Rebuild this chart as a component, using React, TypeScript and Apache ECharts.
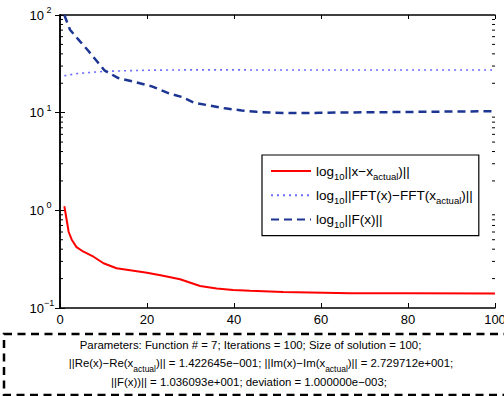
import React, { useEffect, useRef } from "react";
import * as echarts from "echarts";

// Iteration (x) and log-scale values
const redX = [1, 2, 2.7, 3.8, 5.4, 7.7, 10, 13, 16.9, 20, 23.7, 27.6, 32.2, 36, 39.8, 43.7, 51.3, 66.7, 80, 100];
const redY = [1.1, 0.6, 0.5, 0.42, 0.377, 0.335, 0.287, 0.255, 0.241, 0.23, 0.214, 0.197, 0.168, 0.158, 0.153, 0.15, 0.146, 0.142, 0.1415, 0.141];

const dotX = [1, 4, 10.3, 20, 28, 40, 60, 80, 100];
const dotY = [23.9, 25.2, 26.5, 27.2, 27.4, 27.4, 27.35, 27.3, 27.3];

const dashX = [1, 2.3, 4.6, 6.5, 8.4, 10.3, 13.4, 17.2, 21.1, 24.9, 28, 30.7, 34.5, 37.9, 41.8, 45.2, 49, 52.9, 56.3, 59.8, 63.6, 78, 93.5, 100];
const dashY = [100, 70.6, 53.7, 43, 34, 26.9, 22.6, 20.6, 18.6, 15.85, 14.5, 12.7, 11.8, 11.07, 10.55, 10.2, 9.98, 9.9, 9.9, 9.98, 10.03, 10.15, 10.3, 10.36];

const xTicks = { min: 0, max: 100, interval: 20 };
const yRange = { min: 0.1, max: 100 };
const minorTicks = [0.2, 0.3, 0.4, 0.5, 0.6, 0.7, 0.8, 0.9, 2, 3, 4, 5, 6, 7, 8, 9, 20, 30, 40, 50, 60, 70, 80, 90];

const seriesNames = [
  "log10||x-xactual)||",
  "log10||FFT(x)-FFT(xactual)||",
  "log10||F(x)||",
];
const legendRich = [
  "{b|log}{s|10}{b|||x−x}{s|actual}{b|)||}",
  "{b|log}{s|10}{b|||FFT(x)−FFT(x}{s|actual}{b|)||}",
  "{b|log}{s|10}{b|||F(x)||}",
];
const paramLines = [
  "{n|Parameters: Function # = 7; Iterations = 100; Size of solution = 100;}",
  "{n|||Re(x)−Re(x}{s|actual}{n|)|| = 1.422645e−001; ||Im(x)−Im(x}{s|actual}{n|)|| = 2.729712e+001;}",
  "{n|||F(x))|| = 1.036093e+001; deviation = 1.000000e−003;}",
];

const FONT = "'Liberation Sans', Arial, Helvetica, sans-serif";

function zip(xs: number[], ys: number[]) {
  return xs.map((x, i) => [x, ys[i]]);
}

export default function App() {
  const ref = useRef<HTMLDivElement>(null);
  useEffect(() => {
    if (!ref.current) return;
    const chart = echarts.init(ref.current, undefined, { renderer: "svg" });
    const axisLine = { show: true, lineStyle: { color: "#000", width: 1.5 } };
    const yLabelRich = {
      b: { fontSize: 13, fontFamily: FONT, color: "#000", lineHeight: 14 },
      e: { fontSize: 9, fontFamily: FONT, color: "#000", lineHeight: 10, padding: [0, 0, 10, 0], width: 10, align: "left" },
    };
    chart.setOption({
      animation: false,
      backgroundColor: "#fff",
      grid: { left: 60, right: 9, top: 15, bottom: 88, containLabel: false, outerBoundsMode: "none" },
      xAxis: [
        {
          type: "value", position: "bottom", ...xTicks,
          axisLine, splitLine: { show: false },
          axisTick: { show: true, inside: true, length: 5, lineStyle: { color: "#000", width: 1 } },
          axisLabel: { show: true, color: "#000", fontSize: 13, fontFamily: FONT, margin: 5, showMaxLabel: true, showMinLabel: true, hideOverlap: false },
        },
        {
          type: "value", position: "top", ...xTicks,
          axisLine, splitLine: { show: false },
          axisTick: { show: true, inside: true, length: 4, lineStyle: { color: "#000", width: 1 } },
          axisLabel: { show: false },
        },
      ],
      yAxis: [
        {
          type: "log", logBase: 10, position: "left", ...yRange,
          axisLine, splitLine: { show: false },
          axisTick: { show: true, inside: true, length: 5, lineStyle: { color: "#000", width: 1 } },
          axisLabel: {
            show: true, margin: 6,
            formatter: (v: number) => {
              const e = Math.round(Math.log10(v));
              return "{b|10}{e|" + (e < 0 ? "−" + -e : String(e)) + "}";
            },
            rich: yLabelRich,
          },
        },
        {
          type: "log", logBase: 10, position: "right", ...yRange,
          axisLine, splitLine: { show: false },
          axisTick: { show: true, inside: true, length: 5, lineStyle: { color: "#000", width: 1 } },
          axisLabel: { show: false },
        },
      ],
      legend: {
        orient: "vertical",
        left: 262, top: 155,
        padding: [6, 6, 6, 8],
        itemGap: 4.3,
        itemWidth: 40,
        itemHeight: 14,
        backgroundColor: "#fff",
        borderColor: "#000",
        borderWidth: 1.2,
        borderRadius: 0,
        itemStyle: { opacity: 0 },
        data: seriesNames,
        formatter: (name: string) => legendRich[seriesNames.indexOf(name)],
        textStyle: {
          color: "#000",
          rich: {
            b: { fontSize: 13.5, fontFamily: FONT, color: "#000", lineHeight: 16 },
            s: { fontSize: 9.5, fontFamily: FONT, color: "#000", lineHeight: 10, padding: [10, 0, 0, 0] },
          },
        },
      },
      series: [
        {
          name: seriesNames[0], type: "line", data: zip(redX, redY), symbol: "none",
          lineStyle: { color: "#ff0000", width: 2 }, itemStyle: { color: "#ff0000" }, z: 3,
        },
        {
          name: seriesNames[1], type: "line", data: zip(dotX, dotY), symbol: "none",
          lineStyle: { color: "#6b6bff", width: 1.6, type: [2, 4] }, itemStyle: { color: "#6b6bff" }, z: 4,
        },
        {
          name: seriesNames[2], type: "line", data: zip(dashX, dashY), symbol: "none",
          lineStyle: { color: "#1c3593", width: 2.5, type: [8, 5] }, itemStyle: { color: "#1c3593" }, z: 5,
        },
        {
          type: "custom", silent: true, clip: false, z: 6,
          data: minorTicks.map((v) => [0, v]),
          renderItem: (_p: any, api: any) => {
            const v = api.value(1);
            const l = api.coord([xTicks.min, v]);
            const r = api.coord([xTicks.max, v]);
            const st = { stroke: "#000", lineWidth: 1 };
            return {
              type: "group",
              children: [
                { type: "line", shape: { x1: l[0], y1: l[1], x2: l[0] + 3, y2: l[1] }, style: st },
                { type: "line", shape: { x1: r[0] - 3, y1: r[1], x2: r[0], y2: r[1] }, style: st },
              ],
            };
          },
        },
      ],
      graphic: [
        {
          type: "rect", silent: true,
          shape: { x: 4, y: 334, width: 540, height: 61 },
          style: { fill: "none", stroke: "#000", lineWidth: 2.5, lineDash: [8, 5.5] },
        },
        ...paramLines.map((t, i) => ({
          type: "text", silent: true,
          x: [250.5, 261, 249][i], y: [345, 363, 382][i],
          style: {
            text: t, align: "center", verticalAlign: "middle",
            rich: {
              n: { fontSize: 11.4, fontFamily: FONT, fill: "#000", lineHeight: 13 },
              s: { fontSize: 8.5, fontFamily: FONT, fill: "#000", lineHeight: 9, padding: [12, 0, 0, 0] },
            },
          },
        })),
      ],
    });
    return () => chart.dispose();
  }, []);
  return (
    <div
      ref={ref}
      style={{ position: "fixed", left: 0, top: 0, width: 504, height: 396, background: "#fff" }}
    />
  );
}
